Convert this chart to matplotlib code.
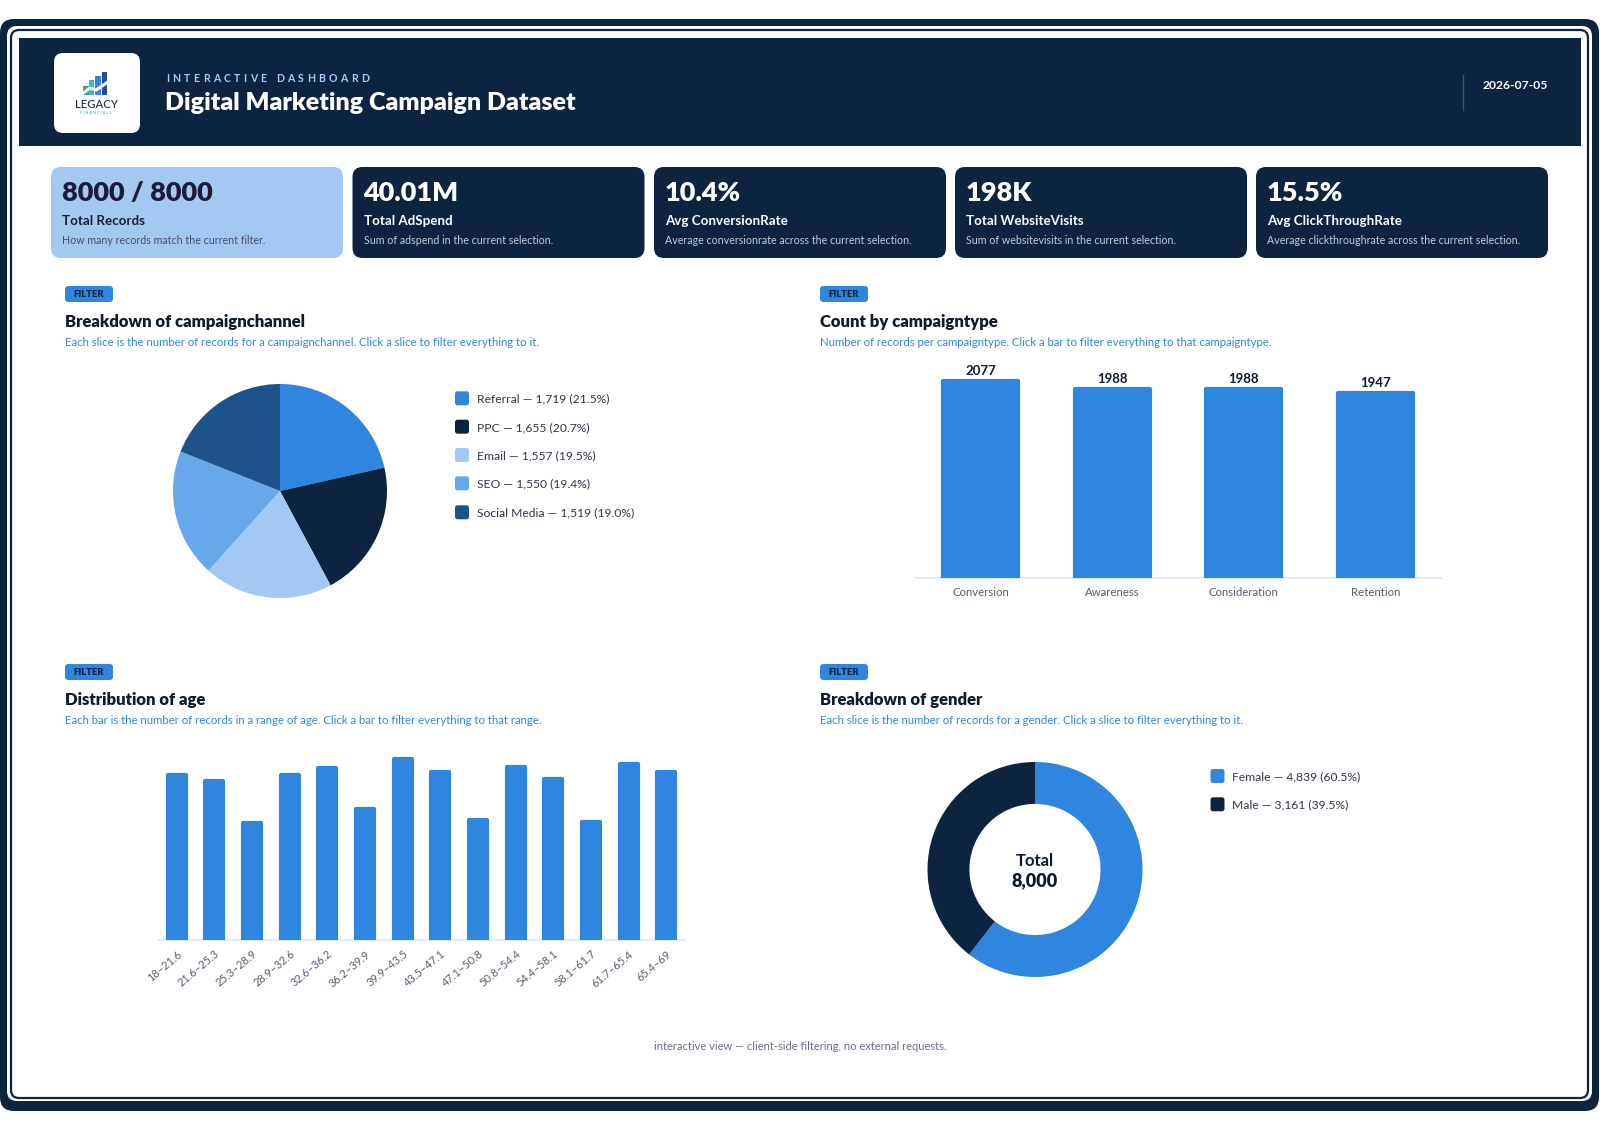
import matplotlib
matplotlib.use("Agg")
import matplotlib.pyplot as plt
from matplotlib.patches import FancyBboxPatch, Rectangle
from matplotlib.lines import Line2D

plt.rcParams['font.family'] = ['Lato', 'DejaVu Sans']

# ---------------- data ----------------
header_kicker = "INTERACTIVE DASHBOARD"
header_title = "Digital Marketing Campaign Dataset"
header_date = "2026-07-05"

kpi_values = ["8000 / 8000", "40.01M", "10.4%", "198K", "15.5%"]
kpi_labels = ["Total Records", "Total AdSpend", "Avg ConversionRate",
              "Total WebsiteVisits", "Avg ClickThroughRate"]
kpi_notes = ["How many records match the current filter.",
             "Sum of adspend in the current selection.",
             "Average conversionrate across the current selection.",
             "Sum of websitevisits in the current selection.",
             "Average clickthroughrate across the current selection."]

channel_labels = ["Referral", "PPC", "Email", "SEO", "Social Media"]
channel_counts = [1719, 1655, 1557, 1550, 1519]

type_labels = ["Conversion", "Awareness", "Consideration", "Retention"]
type_counts = [2077, 1988, 1988, 1947]

age_bins = ["18–21.6", "21.6–25.3", "25.3–28.9", "28.9–32.6", "32.6–36.2",
            "36.2–39.9", "39.9–43.5", "43.5–47.1", "47.1–50.8", "50.8–54.4",
            "54.4–58.1", "58.1–61.7", "61.7–65.4", "65.4–69"]
age_counts = [609, 585, 431, 609, 633, 483, 666, 617, 442, 637, 591, 435, 646, 617]

gender_labels = ["Female", "Male"]
gender_counts = [4839, 3161]

panel_titles = ["Breakdown of campaignchannel", "Count by campaigntype",
                "Distribution of age", "Breakdown of gender"]
panel_subs = ["Each slice is the number of records for a campaignchannel. Click a slice to filter everything to it.",
              "Number of records per campaigntype. Click a bar to filter everything to that campaigntype.",
              "Each bar is the number of records in a range of age. Click a bar to filter everything to that range.",
              "Each slice is the number of records for a gender. Click a slice to filter everything to it."]
footer_text = "interactive view — client-side filtering, no external requests."

# ---------------- style ----------------
NAVY = "#0c2440"
BLUE = "#2e86de"
LIGHT = "#a3c9f2"
MID = "#66a8ea"
DARKB = "#1d528a"
TXT = "#0d1b2e"
GREY = "#5a5a74"
channel_colors = [BLUE, NAVY, LIGHT, MID, DARKB]
gender_colors = [BLUE, NAVY]

W, H = 1600, 1131
fig = plt.figure(figsize=(W / 100, H / 100), dpi=100)
fig.patch.set_facecolor("white")
renderer = fig.canvas.get_renderer()


def prect(x0, y0, x1, y1):
    return [x0 / W, 1 - y1 / H, (x1 - x0) / W, (y1 - y0) / H]


bg = fig.add_axes([0, 0, 1, 1])
bg.set_xlim(0, W)
bg.set_ylim(H, 0)
bg.axis("off")


def rbox(x0, y0, x1, y1, r, **kw):
    p = FancyBboxPatch((x0 + r, y0 + r), (x1 - x0) - 2 * r, (y1 - y0) - 2 * r,
                       boxstyle="round,pad=%g" % r, **kw)
    bg.add_patch(p)
    return p


def spaced_text(x0, x1, y, s, **kw):
    """Letter-spaced text spanning x0..x1 (pixel coords of bg)."""
    glyphs = []
    total = 0.0
    space_w = 3.0
    for ch in s:
        if ch == " ":
            glyphs.append((None, space_w))
            total += space_w
            continue
        t = bg.text(0, y, ch, ha="left", va="baseline", **kw)
        w = t.get_window_extent(renderer).width
        glyphs.append((t, w))
        total += w
    gap = (x1 - x0 - total) / (len(s) - 1)
    x = x0
    for t, w in glyphs:
        if t is not None:
            t.set_x(x)
        x += w + gap


# frame
rbox(0, 19, 1599, 1111, 14, fc=NAVY, ec="none")
rbox(7, 26, 1592, 1101, 10, fc="white", ec="none")
rbox(11, 30, 1588, 1098, 8, fc="white", ec=NAVY, lw=1.6)
# header
bg.add_patch(Rectangle((19, 38), 1562, 108, fc=NAVY, ec="none"))
# logo
rbox(54, 53, 140, 133, 9, fc="white", ec="none")
logo_bars = [(83, 86, "#3aa76d"), (88.5, 80, "#3fb6c9"), (95, 76, "#2e86de"), (101.5, 72, "#1d4f9a")]
for x, top, c in logo_bars:
    bg.add_patch(Rectangle((x, top), 5.5, 95 - top, fc=c, ec="none"))
bg.add_line(Line2D([82, 90, 96, 108], [94, 88, 90, 82], color="white", lw=2.2))
bg.text(96, 107.5, "LEGACY", ha="center", va="baseline", fontsize=8.2, color="#1c2a44", weight="medium")
bg.text(96, 113.5, "F I N A N C I A L S", ha="center", va="baseline", fontsize=2.8, color="#2e9be0")

spaced_text(166, 369, 81.5, header_kicker, fontsize=7.6, color="#a8cdf5", weight="bold")
bg.text(165, 110.5, header_title, ha="left", va="baseline", fontsize=18, color="white", weight="heavy")
bg.add_line(Line2D([1463, 1463], [75, 110], color="#3b5575", lw=1))
bg.text(1548, 89, header_date, ha="right", va="baseline", fontsize=8.7, color="white", weight="bold")

# KPI cards
card_x = [51, 352.5, 654, 955, 1256]
for i in range(5):
    x0 = card_x[i]
    first = (i == 0)
    rbox(x0, 167, x0 + 292, 258, 10, fc=LIGHT if first else NAVY, ec="none")
    vc = "#1e1b3a" if first else "white"
    sc = "#4a4a66" if first else "#c3cddb"
    bg.text(x0 + 11, 201, kpi_values[i], ha="left", va="baseline", fontsize=19.5, weight="heavy", color=vc)
    bg.text(x0 + 11, 225, kpi_labels[i], ha="left", va="baseline", fontsize=9.6, weight="bold", color=vc)
    bg.text(x0 + 11, 244.5, kpi_notes[i], ha="left", va="baseline", fontsize=7.65, color=sc)

# panel headers
panel_pos = [(65, 286), (820, 286), (65, 664), (820, 664)]
for (px, py), t, s in zip(panel_pos, panel_titles, panel_subs):
    rbox(px, py, px + 48, py + 16, 3.5, fc=BLUE, ec="none")
    bg.text(px + 24, py + 8.5, "FILTER", ha="center", va="center", fontsize=6.8, weight="heavy", color=NAVY)
    bg.text(px, py + 40.5, t, ha="left", va="baseline", fontsize=12, weight="heavy", color=TXT)
    bg.text(px, py + 59.5, s, ha="left", va="baseline", fontsize=8.2, color=BLUE)


def legend_rows(x_sq, y_centers, colors, texts):
    for y, c, t in zip(y_centers, colors, texts):
        rbox(x_sq, y - 7, x_sq + 14, y + 7, 2.5, fc=c, ec="none")
        bg.text(x_sq + 22, y + 4.3, t, ha="left", va="baseline", fontsize=8.7, color="#34344a")


# ---- pie: campaign channel ----
cx, cy, r = 280, 491, 107
ax1 = fig.add_axes(prect(cx - r, cy - r, cx + r, cy + r))
ax1.pie(channel_counts, colors=channel_colors, startangle=90, counterclock=False, radius=1)
ax1.set_xlim(-1, 1)
ax1.set_ylim(-1, 1)
ax1.set_aspect("equal")
ax1.axis("off")
tot_c = sum(channel_counts)
legend_rows(455, [398.3, 426.7, 455, 483.3, 512.3], channel_colors,
            ["%s — %s (%.1f%%)" % (l, format(v, ","), 100 * v / tot_c) for l, v in zip(channel_labels, channel_counts)])

# ---- bar: campaign type ----
ax2 = fig.add_axes(prect(915, 350, 1441, 577.7))
ax2.patch.set_alpha(0)
bars = ax2.bar(range(len(type_labels)), type_counts, width=0.567, color=BLUE,
               edgecolor=BLUE, linewidth=3, joinstyle="round")
ax2.set_xlim(-0.5, len(type_labels) - 0.5)
ax2.set_ylim(0, 2404)
for s in ["top", "right", "left"]:
    ax2.spines[s].set_visible(False)
ax2.spines["bottom"].set_color("#d8e7f8")
ax2.spines["bottom"].set_linewidth(1.2)
ax2.spines["bottom"].set_zorder(0)
ax2.set_yticks([])
ax2.set_xticks(range(len(type_labels)))
ax2.set_xticklabels(type_labels, fontsize=8.2, color=GREY)
ax2.tick_params(axis="x", length=0, pad=7)
for b, v in zip(bars, type_counts):
    ax2.annotate(str(v), (b.get_x() + b.get_width() / 2, v), xytext=(0, 4),
                 textcoords="offset pixels", ha="center", va="bottom",
                 fontsize=9.5, weight="bold", color=TXT)

# ---- histogram: age ----
ax3 = fig.add_axes(prect(158, 740, 685, 940))
ax3.patch.set_alpha(0)
ax3.bar(range(len(age_bins)), age_counts, width=0.479, color=BLUE,
        edgecolor=BLUE, linewidth=3, joinstyle="round")
ax3.set_xlim(-0.5, len(age_bins) - 0.5)
ax3.set_ylim(0, 736)
for s in ["top", "right", "left"]:
    ax3.spines[s].set_visible(False)
ax3.spines["bottom"].set_color("#d8e7f8")
ax3.spines["bottom"].set_linewidth(1.2)
ax3.spines["bottom"].set_zorder(0)
ax3.set_yticks([])
ax3.set_xticks(range(len(age_bins)))
ax3.set_xticklabels(age_bins, fontsize=7.9, color=GREY, rotation=40,
                    ha="right", rotation_mode="anchor")
ax3.tick_params(axis="x", length=0, pad=6)

# ---- donut: gender ----
dx, dy, dr = 1035, 869.5, 107.5
ax4 = fig.add_axes(prect(dx - dr, dy - dr, dx + dr, dy + dr))
ax4.pie(gender_counts, colors=gender_colors, startangle=90, counterclock=False,
        radius=1, wedgeprops=dict(width=0.39))
ax4.set_xlim(-1, 1)
ax4.set_ylim(-1, 1)
ax4.set_aspect("equal")
ax4.axis("off")
tot_g = sum(gender_counts)
bg.text(dx, 866, "Total", ha="center", va="baseline", fontsize=12, weight="bold", color=TXT)
bg.text(dx, 886.5, format(tot_g, ","), ha="center", va="baseline", fontsize=13, weight="heavy", color=TXT)
legend_rows(1210.5, [776, 804.3], gender_colors,
            ["%s — %s (%.1f%%)" % (l, format(v, ","), 100 * v / tot_g) for l, v in zip(gender_labels, gender_counts)])

# footer
bg.text(800, 1049.5, footer_text, ha="center", va="baseline", fontsize=8, color="#6b6b8b")

fig.savefig("out.png", dpi=100, facecolor="white")
